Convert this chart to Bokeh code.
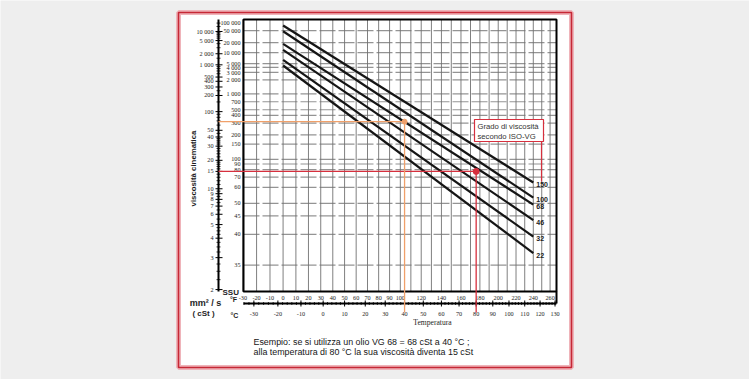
import numpy as np
from bokeh.plotting import figure
from bokeh.models import Range1d
from bokeh.core.properties import value
from bokeh.embed import file_html
from bokeh.resources import INLINE

# ---------------- data ----------------
grades = ["150", "100", "68", "46", "32", "22"]
visc_at_0F = [16300, 10200, 3950, 2600, 1360, 960]      # cSt at 0 °F (line start)
visc_at_240F = [11.5, 8.3, 7.2, 5.4, 4.1, 3.2]           # cSt at 240 °F (line end)
line_temps_F = [0, 240]

cst_ticks = [10000, 5000, 2000, 1000, 500, 400, 300, 200, 100, 50, 40, 30, 20, 15,
             10, 9, 8, 7, 6, 5, 4, 3, 2]
cst_labels = ["10 000", "5 000", "2 000", "1 000", "500", "400", "300", "200", "100",
              "50", "40", "30", "20", "15", "10", "9", "8", "7", "6", "5", "4", "3", "2"]
cst_minor = [2.25, 2.5, 2.75, 3.25, 3.5, 3.75, 4.25, 4.5, 4.75, 5.5, 6.5, 7.5, 8.5, 9.5,
             11, 12, 13, 14, 16, 17, 18, 19, 22, 24, 26, 28, 32, 34, 36, 38, 45, 60, 70,
             80, 90, 150, 250, 600, 700, 800, 900, 1500, 3000, 4000, 6000, 7000, 8000,
             9000, 15000, 20000]

ssu_ticks = [100000, 50000, 20000, 10000, 5000, 4000, 3000, 2000, 1000, 700, 500, 400,
             300, 200, 150, 100, 90, 80, 70, 60, 50, 45, 40, 35]
ssu_labels = ["100 000", "50 000", "20 000", "10 000", "5 000", "4 000", "3 000", "2 000",
              "1 000", "700", "500", "400", "300", "200", "150", "100", "90", "80", "70",
              "60", "50", "45", "40", "35"]

degF_ticks = [-30, -20, -10, 0, 10, 20, 30, 40, 50, 60, 70, 80, 90, 100,
              120, 140, 160, 180, 200, 220, 240, 260]
degF_grid = list(range(-30, 261, 10))
degC_ticks = list(range(-30, 131, 10))
degC_minor = list(range(-34, 131, 2))

example_temp_C = [40, 80]
example_visc = [68, 15]

# ---------------- chart transforms (ASTM D341 style) ----------------
def xC(tc):
    return np.log10(np.asarray(tc, dtype=float) + 273.15)

def xF(tf):
    return xC((np.asarray(tf, dtype=float) - 32.0) * 5.0 / 9.0)

def yV(v):
    return np.log10(np.log10(np.asarray(v, dtype=float) + 0.7))

def ssu_of(v):
    return 4.6324 * v + (1.0 + 0.03264 * v) / ((3930.2 + 262.7 * v + 23.97 * v ** 2 + 1.646 * v ** 3) * 1e-5)

def cst_of_ssu(s):
    lo, hi = np.log(0.5), np.log(1e6)
    for _ in range(80):
        mid = 0.5 * (lo + hi)
        if ssu_of(np.exp(mid)) < s:
            lo = mid
        else:
            hi = mid
    return float(np.exp(0.5 * (lo + hi)))

ssu_cst = [cst_of_ssu(s) for s in ssu_ticks]

# ---------------- layout (page pixels) ----------------
W, H = 749, 379
FR_L, FR_R, FR_T, FR_B = 243, 556, 19, 291
XL, XR = float(xC(-34.2)), float(xC(131.0))
YB, YT = float(yV(1.956)), float(yV(27300))
KX = (FR_R - FR_L) / (XR - XL)
KY = (FR_B - FR_T) / (YT - YB)

def X(px):
    return XL + (px - FR_L) / KX

def Y(py):
    return YB + (FR_B - py) / KY

p = figure(width=W, height=H, output_backend="svg", toolbar_location=None,
           x_range=Range1d(X(0), X(W)), y_range=Range1d(Y(H), Y(0)),
           x_axis_type=None, y_axis_type=None, min_border=0)
p.outline_line_color = None
p.background_fill_color = "#eeeeee"
p.border_fill_color = "#eeeeee"

SERIF = "Liberation Serif"
SANS = "Liberation Sans"
INK = "#1e1e1e"

def txt(texts, xs, ys, size, font=SANS, style="normal", align="left", base="middle",
        angle=0.0, color=INK, xo=0, yo=0):
    n = len(texts)
    xs = list(np.broadcast_to(np.asarray(xs, dtype=float), (n,)))
    ys = list(np.broadcast_to(np.asarray(ys, dtype=float), (n,)))
    p.text(x=xs, y=ys, text=list(texts), x_offset=xo, y_offset=yo, angle=angle,
           text_font=value(font), text_font_size=value(size), text_font_style=style,
           text_align=align, text_baseline=base, text_color=color)

# outer red frame (with soft pink halo)
p.quad(left=X(178), right=X(571), top=Y(12), bottom=Y(367), fill_color="white",
       line_color="#efb4ba", line_width=5)
p.quad(left=X(178), right=X(571), top=Y(12), bottom=Y(367), fill_color=None,
       line_color="#c62836", line_width=1.6)

# ---- grid ----
gx = list(xF(degF_grid))
p.segment(x0=gx, y0=[YB] * len(gx), x1=gx, y1=[YT] * len(gx),
          line_color="#6a6a6a", line_width=1, line_alpha=0.85)
ssu_pos = list(yV(ssu_cst))
gy = ssu_pos[1:]
p.segment(x0=[XL] * len(gy), y0=gy, x1=[XR] * len(gy), y1=gy,
          line_color="#707070", line_width=1.2, line_alpha=0.75, line_dash="16 3")

# ---- chart frame ----
p.quad(left=XL, right=XR, top=YT, bottom=YB, fill_color=None, line_color="black", line_width=2)

# ---- left scales: cSt (outer axis) and SSU (next to frame) ----
AX_CST = X(218)
cst_pos = list(yV(cst_ticks))
p.segment(x0=[AX_CST], y0=[YB], x1=[AX_CST], y1=[YT], line_color="black", line_width=2)
p.segment(x0=[AX_CST - 3 / KX] * len(cst_pos), y0=cst_pos, x1=[AX_CST + 4 / KX] * len(cst_pos),
          y1=cst_pos, line_color="black", line_width=1)
cmin = list(yV(cst_minor))
p.segment(x0=[AX_CST - 2 / KX] * len(cmin), y0=cmin, x1=[AX_CST + 2 / KX] * len(cmin),
          y1=cmin, line_color="black", line_width=0.8)
txt(cst_labels, AX_CST, cst_pos, "6.2px", font=SERIF, align="right", xo=-5)
txt(ssu_labels, XL, ssu_pos, "6.2px", font=SERIF, align="right", xo=-3)

# ---- bottom scales: °F (band under frame) and °C (axis) ----
f_pos = list(xF(degF_ticks))
txt([str(v) for v in degF_ticks], f_pos, YB, "6.2px", font=SERIF, align="center", yo=6)
AX_C = Y(303)
p.segment(x0=[XL], y0=[AX_C], x1=[XR], y1=[AX_C], line_color="black", line_width=2)
p.segment(x0=[XR], y0=[YB], x1=[XR], y1=[AX_C], line_color="black", line_width=2)
c_pos = list(xC(degC_ticks))
p.segment(x0=c_pos, y0=[AX_C - 3 / KY] * len(c_pos), x1=c_pos, y1=[AX_C + 3 / KY] * len(c_pos),
          line_color="black", line_width=1)
cm = list(xC(degC_minor))
p.segment(x0=cm, y0=[AX_C - 1.5 / KY] * len(cm), x1=cm, y1=[AX_C + 1.5 / KY] * len(cm),
          line_color="black", line_width=0.8)
txt([str(v) for v in degC_ticks], c_pos, AX_C, "6.2px", font=SERIF, align="center", yo=10)

# ---- ISO VG lines ----
x0 = float(xF(line_temps_F[0]))
x1 = float(xF(line_temps_F[1]))
p.segment(x0=[x0] * len(grades), y0=list(yV(visc_at_0F)), x1=[x1] * len(grades),
          y1=list(yV(visc_at_240F)), line_color="#151515", line_width=2.2)
txt(grades, x1, list(yV(visc_at_240F)), "7px", style="bold", xo=3, yo=2, color="#222222")

# ---- example (VG 68 at 40 °C -> 15 cSt at 80 °C) ----
ORANGE = "#f0a06a"
RED = "#d6303e"
ex_x = list(xC(example_temp_C))
ex_y = list(yV(example_visc))
cols = [ORANGE, RED]
p.segment(x0=[AX_CST] * 2, y0=ex_y, x1=ex_x, y1=ex_y, line_color=cols, line_width=1.3)
p.segment(x0=ex_x, y0=ex_y, x1=ex_x, y1=[Y(312)] * 2, line_color=cols, line_width=1.3)
p.scatter(x=ex_x, y=ex_y, size=[5, 6], color=cols)

# ---- legend box ----
p.quad(left=X(474), right=X(543), top=Y(119), bottom=Y(141), fill_color="white",
       line_color=RED, line_width=1.2)
p.segment(x0=[X(541)], y0=[Y(141)], x1=[X(541)], y1=[Y(181)], line_color=RED, line_width=1.2)
txt(["Grado di viscosità", "secondo ISO-VG"], X(477), [Y(126), Y(136)], "7.7px", color="#333333")

# ---- texts ----
txt(["viscosità cinematica"], X(193), Y(168), "7.8px", style="bold", align="center",
    angle=np.pi / 2)
txt(["SSU"], X(222), Y(292), "8px", style="bold")
txt(["mm² / s"], X(205), Y(302), "9px", style="bold", align="center")
txt(["( cSt )"], X(203), Y(313), "8px", style="bold", align="center")
txt(["°F"], X(233), Y(299), "7px", style="bold", align="center")
txt(["°C"], X(234), Y(315), "7px", style="bold", align="center")
txt(["Temperatura"], X(432), Y(322), "7.6px", font=SERIF, align="center")
txt(["Esempio: se si utilizza un olio VG 68 = 68 cSt a 40 °C ;",
     "alla temperatura di 80 °C  la sua viscosità diventa 15 cSt"],
    X(253), [Y(341), Y(351)], "8.9px", color="#161616")

open("out.html", "w").write(file_html(p, INLINE))
